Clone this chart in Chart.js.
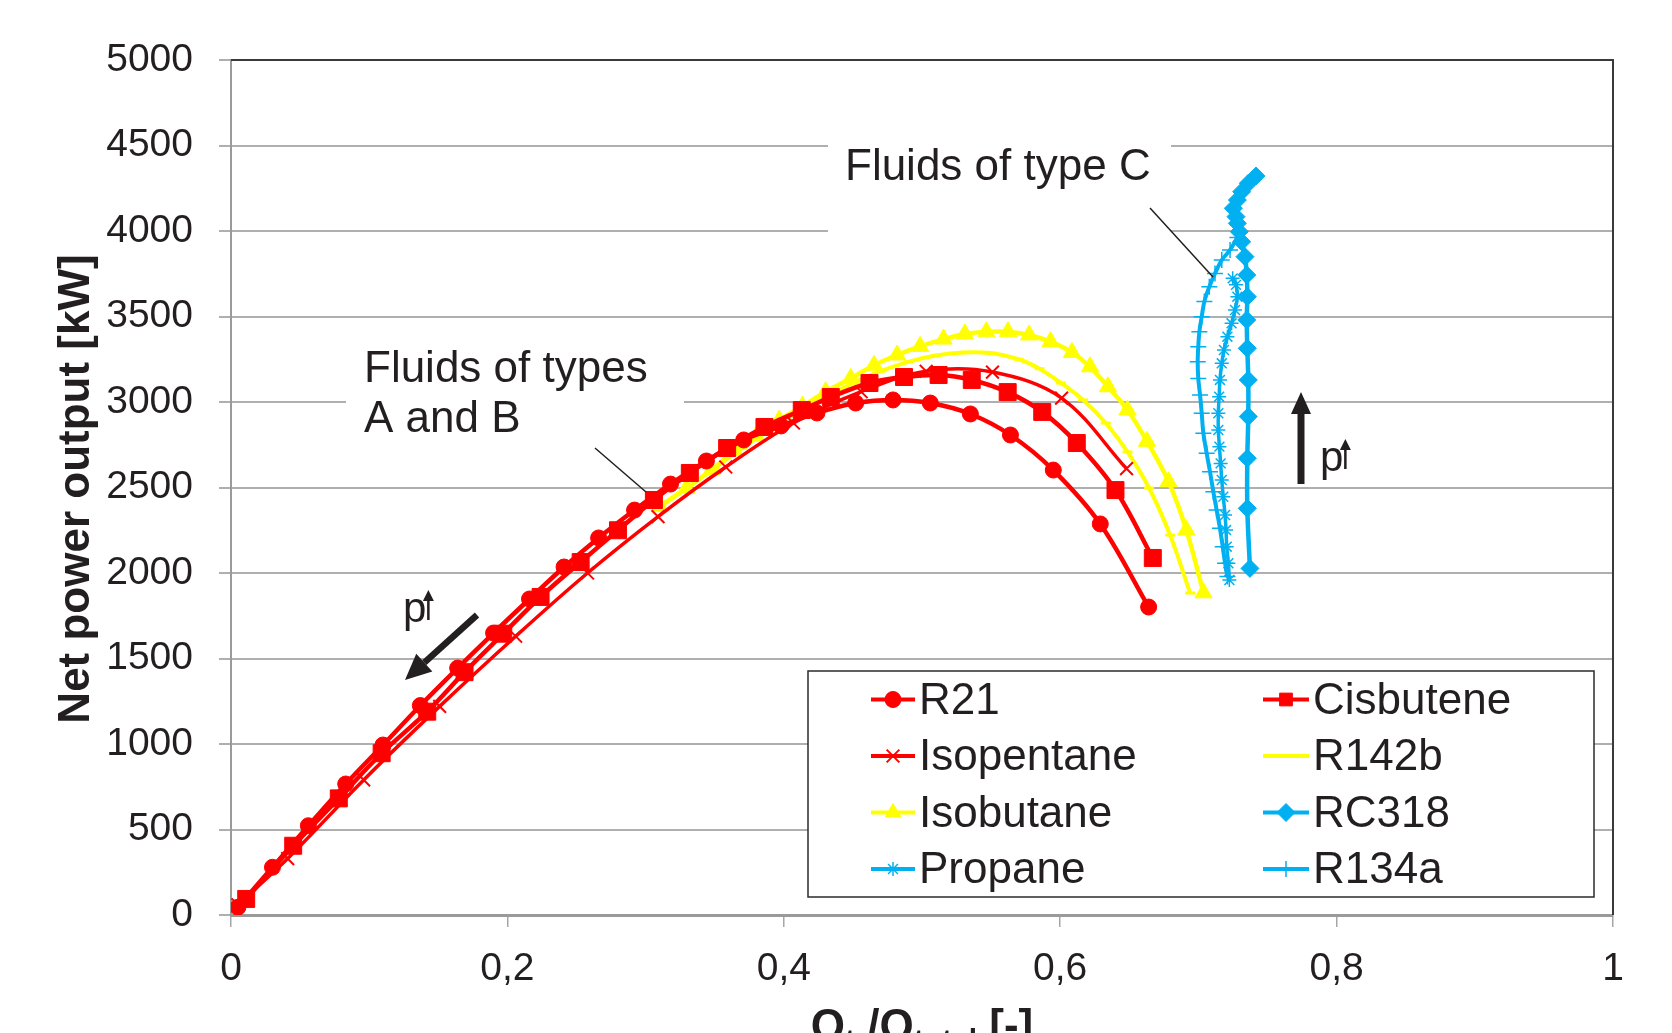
<!DOCTYPE html>
<html><head><meta charset="utf-8">
<script src="https://cdn.jsdelivr.net/npm/chart.js@4.4.1/dist/chart.umd.min.js"></script>
<style>html,body{margin:0;padding:0;background:#fff;overflow:hidden}#wrap{width:1672px;height:1033px;position:relative}</style>
</head><body><div id="wrap"><canvas id="c" width="1672" height="1033"></canvas></div>
<script>
// ---- axis ticks ----
const xTickValues = [0, 0.2, 0.4, 0.6, 0.8, 1];
const xTickLabels = ['0', '0,2', '0,4', '0,6', '0,8', '1'];
const yTickValues = [0, 500, 1000, 1500, 2000, 2500, 3000, 3500, 4000, 4500, 5000];
const yTickLabels = ['0', '500', '1000', '1500', '2000', '2500', '3000', '3500', '4000', '4500', '5000'];

// ---- series (x = Q ratio, y = net power kW) ----
const r21X = [0.005,0.030,0.056,0.083,0.110,0.137,0.164,0.190,0.216,0.241,0.266,0.292,0.318,0.344,0.371,0.398,0.424,0.452,0.479,0.506,0.535,0.564,0.595,0.629,0.664];
const r21Y = [45,279,522,766,994,1225,1444,1649,1848,2035,2205,2368,2520,2655,2778,2860,2936,2994,3012,2994,2930,2807,2602,2287,1801];

const cisX = [0.011,0.045,0.078,0.109,0.142,0.169,0.197,0.224,0.253,0.280,0.306,0.332,0.359,0.386,0.413,0.434,0.462,0.487,0.512,0.536,0.562,0.587,0.612,0.640,0.667];
const cisY = [94,405,682,946,1189,1420,1645,1860,2064,2250,2427,2585,2731,2854,2953,3029,3111,3146,3158,3129,3058,2942,2760,2485,2088];

const isopX = [0.005,0.041,0.096,0.151,0.206,0.258,0.309,0.358,0.407,0.456,0.503,0.551,0.601,0.648];
const isopY = [60,330,790,1220,1630,2000,2330,2620,2877,3060,3180,3175,3023,2610];

const r142X = [0.311,0.330,0.350,0.370,0.390,0.410,0.430,0.450,0.470,0.490,0.510,0.530,0.550,0.570,0.585,0.6006,0.6165,0.633,0.6487,0.6643,0.6795,0.694];
const r142Y = [2395,2500,2615,2730,2840,2940,3030,3110,3180,3235,3272,3290,3286,3250,3195,3111,3012,2877,2708,2497,2222,1883];

const isobX = [0.310,0.3295,0.3476,0.3644,0.380,0.3967,0.4135,0.4303,0.4484,0.4653,0.482,0.4986,0.5156,0.531,0.5466,0.5622,0.5775,0.593,0.6085,0.6216,0.6346,0.6487,0.6628,0.6784,0.6913,0.7037];
const isobY = [2388,2495,2602,2715,2800,2895,2975,3060,3138,3215,3275,3325,3368,3398,3411,3411,3392,3353,3290,3206,3089,2953,2770,2534,2251,1884];

const rc318X = [0.7373,0.7354,0.7354,0.7361,0.7361,0.7354,0.735,0.7354,0.735,0.7337,0.7313,0.7296,0.7282,0.7272,0.7253,0.7282,0.7313,0.7361,0.7417];
const rc318Y = [2027,2378,2671,2915,3129,3314,3480,3616,3743,3850,3937,3996,4045,4084,4133,4181,4230,4279,4322];

const propX = [0.7224,0.7217,0.7205,0.7200,0.7193,0.7180,0.7169,0.7161,0.7152,0.7144,0.7144,0.7150,0.7156,0.7169,0.7185,0.7210,0.7240,0.7265,0.7282,0.7272,0.7248];
const propY = [1959,2057,2154,2251,2339,2446,2544,2641,2739,2836,2934,3031,3129,3226,3304,3382,3460,3538,3616,3685,3723];

const r134X = [0.7210,0.7193,0.7176,0.7156,0.7132,0.7108,0.7084,0.7060,0.7036,0.7024,0.7012,0.6999,0.6995,0.6999,0.7007,0.7024,0.7043,0.7079,0.7120,0.7169,0.7229,0.7282];
const r134Y = [1979,2057,2154,2261,2368,2475,2592,2700,2817,2934,3041,3138,3236,3323,3411,3499,3587,3674,3752,3830,3889,3962];

const RED = '#FF0000', YEL = '#FFFF00', BLU = '#00B0F0';
const FONT = '"Liberation Sans", Arial, sans-serif';
const TXT = '#231F20';

function pts(xs, ys) { return xs.map((x, i) => ({ x: x, y: ys[i] })); }

function ds(label, xs, ys, color, style, radius, lineW, ptBorder, ptFill) {
  return {
    label, data: pts(xs, ys), showLine: true, tension: 0.35,
    borderColor: color, backgroundColor: color, borderWidth: lineW,
    pointStyle: style, pointRadius: radius, pointBorderWidth: ptBorder,
    pointBackgroundColor: ptFill, pointBorderColor: color, pointHoverRadius: radius
  };
}

const datasets = [
  ds('R21', r21X, r21Y, RED, 'circle', 8, 4.5, 1, RED),
  ds('Cisbutene', cisX, cisY, RED, 'rect', 12, 4.5, 1, RED),
  ds('Isopentane', isopX, isopY, RED, 'crossRot', 9, 3.5, 2, RED),
  ds('R142b', r142X, r142Y, YEL, 'line', 5, 4, 3, YEL),
  ds('Isobutane', isobX, isobY, YEL, 'triangle', 10, 4.5, 1, YEL),
  ds('RC318', rc318X, rc318Y, BLU, 'rectRot', 9, 4.5, 1, BLU),
  ds('Propane', propX, propY, BLU, 'star', 7, 3.5, 1.5, BLU),
  ds('R134a', r134X, r134Y, BLU, 'cross', 8, 4, 1.5, BLU)
];

function drawArrow(ctx, x1, y1, x2, y2, w, hl, hw) {
  const a = Math.atan2(y2 - y1, x2 - x1);
  const bx = x2 - Math.cos(a) * hl, by = y2 - Math.sin(a) * hl;
  ctx.beginPath();
  ctx.lineWidth = w; ctx.lineCap = 'butt';
  ctx.moveTo(x1, y1); ctx.lineTo(bx, by); ctx.stroke();
  ctx.beginPath();
  ctx.moveTo(x2, y2);
  ctx.lineTo(bx + Math.sin(a) * hw / 2, by - Math.cos(a) * hw / 2);
  ctx.lineTo(bx - Math.sin(a) * hw / 2, by + Math.cos(a) * hw / 2);
  ctx.closePath(); ctx.fill();
}

function pLabel(ctx, x, baseline) {
  ctx.font = '42px ' + FONT;
  ctx.textAlign = 'left'; ctx.textBaseline = 'alphabetic';
  ctx.fillText('p', x, baseline);
  const w = ctx.measureText('p').width;
  drawArrow(ctx, x + w + 2, baseline - 2, x + w + 2, baseline - 32, 2.5, 11, 11);
}

const overlay = {
  id: 'overlay',
  beforeDatasetsDraw(chart) {
    const ctx = chart.ctx;
    ctx.save();
    ctx.fillStyle = '#fff';
    ctx.fillRect(346, 336, 338, 108);
    ctx.fillRect(828, 128, 343, 116);
    ctx.restore();
  },
  afterDatasetsDraw(chart) {
    const ctx = chart.ctx, ca = chart.chartArea;
    ctx.save();
    // top and right frame
    ctx.strokeStyle = '#3a3a3a'; ctx.lineWidth = 2;
    ctx.beginPath();
    ctx.moveTo(ca.left, ca.top); ctx.lineTo(ca.right, ca.top); ctx.lineTo(ca.right, ca.bottom);
    ctx.stroke();

    // annotations
    ctx.fillStyle = TXT; ctx.strokeStyle = TXT;
    ctx.font = '44px ' + FONT; ctx.textAlign = 'left'; ctx.textBaseline = 'alphabetic';
    ctx.fillText('Fluids of type C', 845, 180);
    ctx.fillText('Fluids of types', 364, 382);
    ctx.fillText('A and B', 364, 432);
    ctx.lineWidth = 1.5;
    ctx.beginPath(); ctx.moveTo(1150, 208); ctx.lineTo(1213, 277); ctx.stroke();
    ctx.beginPath(); ctx.moveTo(595, 448); ctx.lineTo(646, 492); ctx.stroke();

    // pressure arrows
    drawArrow(ctx, 477, 615, 405, 680, 6.5, 26, 24);
    drawArrow(ctx, 1301, 484, 1301, 392, 7, 22, 20);
    pLabel(ctx, 403, 622);
    pLabel(ctx, 1320, 471);

    // legend
    const L = 808, T = 671, R = 1594, B = 897;
    ctx.fillStyle = '#fff'; ctx.fillRect(L, T, R - L, B - T);
    ctx.strokeStyle = '#2b2b2b'; ctx.lineWidth = 1.5; ctx.strokeRect(L, T, R - L, B - T);
    const rows = [699.5, 756, 812.5, 869];
    const cols = [[871, 915], [1263, 1309]];
    chart.data.datasets.forEach((d, i) => {
      const r = Math.floor(i / 2), c = i % 2;
      const y = rows[r], x1 = cols[c][0], x2 = cols[c][1];
      ctx.strokeStyle = d.borderColor; ctx.lineWidth = 4;
      ctx.beginPath(); ctx.moveTo(x1, y); ctx.lineTo(x2, y); ctx.stroke();
      ctx.fillStyle = d.pointBackgroundColor; ctx.strokeStyle = d.pointBorderColor;
      ctx.lineWidth = d.pointBorderWidth;
      if (d.pointStyle !== 'line' && Chart.helpers && Chart.helpers.drawPoint) {
        Chart.helpers.drawPoint(ctx, { pointStyle: d.pointStyle, radius: Math.min(d.pointRadius, 9), borderWidth: d.pointBorderWidth, rotation: 0 }, (x1 + x2) / 2, y);
      }
      ctx.fillStyle = TXT; ctx.font = '44px ' + FONT;
      ctx.textAlign = 'left'; ctx.textBaseline = 'alphabetic';
      ctx.fillText(d.label, x2 + 4, y + 14);
    });

    // axis titles
    ctx.fillStyle = TXT;
    ctx.save();
    ctx.translate(77, 489); ctx.rotate(-Math.PI / 2);
    ctx.font = 'bold 44px ' + FONT; ctx.textAlign = 'center'; ctx.textBaseline = 'middle';
    ctx.fillText('Net power output [kW]', 0, 0);
    ctx.restore();

    const parts = [['Q', 0], ['t', 1], [' /Q', 0], ['total', 1], [' [-]', 0]];
    const big = 'bold 44px ' + FONT, small = 'bold 30px ' + FONT;
    let total = 0;
    parts.forEach(p => { ctx.font = p[1] ? small : big; total += ctx.measureText(p[0]).width; });
    let x = (ca.left + ca.right) / 2 - total / 2;
    const base = 1040;
    ctx.textAlign = 'left'; ctx.textBaseline = 'alphabetic';
    parts.forEach(p => {
      ctx.font = p[1] ? small : big;
      ctx.fillText(p[0], x, p[1] ? base + 10 : base);
      x += ctx.measureText(p[0]).width;
    });
    ctx.restore();
  }
};

new Chart(document.getElementById('c'), {
  type: 'scatter',
  data: { datasets },
  options: {
    responsive: false, animation: false, devicePixelRatio: 1,
    layout: { padding: { left: 0, right: 59, top: 60, bottom: 0 } },
    plugins: { legend: { display: false }, tooltip: { enabled: false } },
    scales: {
      x: {
        type: 'linear', min: 0, max: 1,
        afterBuildTicks: s => { s.ticks = xTickValues.map(v => ({ value: v })); },
        afterFit: s => { s.height = 118; },
        ticks: { callback: (v) => { const i = xTickValues.indexOf(v); return i >= 0 ? xTickLabels[i] : ''; },
                 font: { family: FONT, size: 39 }, color: TXT, padding: 19, maxRotation: 0 },
        grid: { drawOnChartArea: false, drawTicks: true, tickLength: 12, color: '#A6A6A6', lineWidth: 1.5 },
        border: { display: true, color: '#9A9A9A', width: 3 }
      },
      y: {
        type: 'linear', min: 0, max: 5000,
        afterBuildTicks: s => { s.ticks = yTickValues.map(v => ({ value: v })); },
        afterFit: s => { s.width = 231; },
        ticks: { callback: (v) => { const i = yTickValues.indexOf(v); return i >= 0 ? yTickLabels[i] : ''; },
                 font: { family: FONT, size: 39 }, color: TXT, padding: 26 },
        grid: { color: '#AFAFAF', lineWidth: 2, tickLength: 12, drawTicks: true },
        border: { display: true, color: '#9A9A9A', width: 2 }
      }
    }
  },
  plugins: [overlay]
});
</script></body></html>
